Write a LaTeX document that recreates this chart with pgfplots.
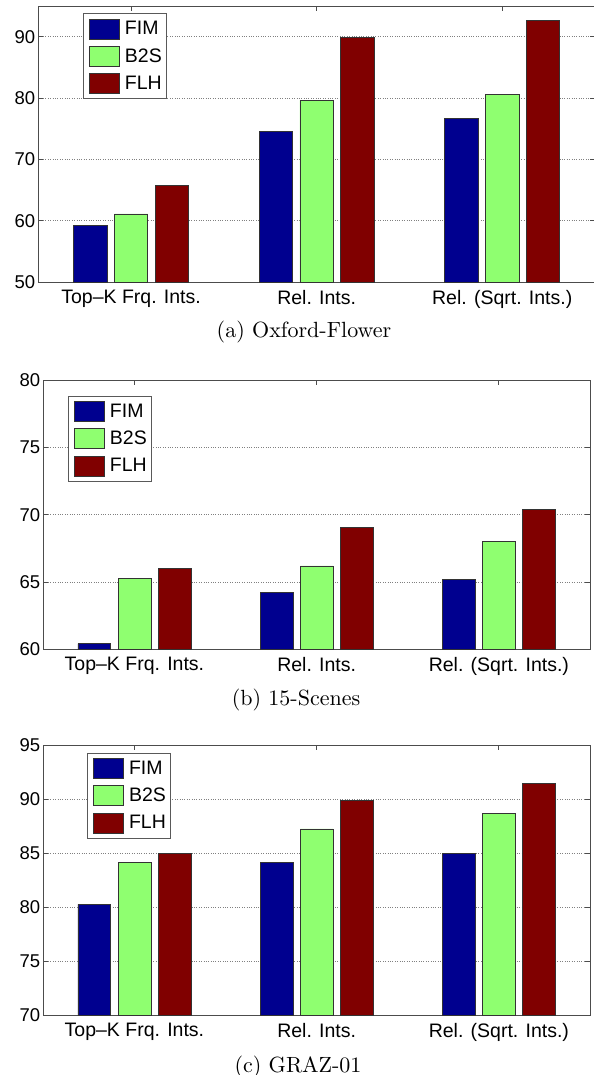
\documentclass[border=0pt]{standalone}
\usepackage{pgfplots}
\pgfplotsset{compat=1.18}
\usepackage{fontspec}
\newfontfamily\arial{Liberation Sans}
\newfontfamily\capfont{lmroman10-regular}[Extension=.otf]
\definecolor{cFIM}{rgb}{0,0,0.5625}
\definecolor{cB2S}{rgb}{0.5625,1,0.4375}
\definecolor{cFLH}{rgb}{0.5,0,0}
\pgfplotsset{
  mybar/.style={
    scale only axis, anchor=north west,
    xmin=0.5, xmax=3.5,
    xtick={1,2,3},
    xticklabels={Top–K Frq. Ints., Rel. Ints., Rel. (Sqrt. Ints.)},
    ymajorgrids,
    grid style={dotted, black!50, line width=0.7bp},
    tick align=inside, major tick length=5bp,
    axis line style={black!70, line width=0.8bp},
    every tick/.style={black!70, line width=0.8bp},
    /pgf/number format/assume math mode=true,
    xticklabel style={font=\arial\fontsize{19.5bp}{22bp}\selectfont, inner sep=0pt, anchor=north, yshift=-8bp},
    yticklabel style={font=\arial\fontsize{18.5bp}{22bp}\selectfont, inner sep=0pt, anchor=east, xshift=-3bp},
    legend cell align=left,
    legend image code/.code={\draw[##1] (0bp,-10bp) rectangle (30bp,10bp);},
    legend style={anchor=north west, draw=black!65, line width=0.8bp, inner sep=5bp,
      row sep=6.7bp, column sep=5.7bp,
      font=\arial\fontsize{19.5bp}{22bp}\selectfont,
      nodes={inner sep=0pt}},
  },
  bFIM/.style={ybar, bar width=0.18, bar shift=0pt, fill=cFIM, draw=black!80, line width=0.6bp},
  bB2S/.style={ybar, bar width=0.18, bar shift=0pt, fill=cB2S, draw=black!80, line width=0.6bp},
  bFLH/.style={ybar, bar width=0.18, bar shift=0pt, fill=cFLH, draw=black!80, line width=0.6bp},
}
\begin{document}
\begin{tikzpicture}
\useasboundingbox (0,0) rectangle (594bp,-1075bp);
% (a) Oxford-Flower
\begin{axis}[mybar, at={(38.3bp,-6bp)}, width=556.7bp, height=276bp,
  ymin=50, ymax=95, ytick={50,60,70,80,90},
  legend style={at={(0.0808,0.9736)}}]
\addplot[bFIM] coordinates {(0.78,59.2) (1.78,74.6) (2.78,76.7)};
\addplot[bB2S] coordinates {(1,61.1) (2,79.6) (3,80.6)};
\addplot[bFLH] coordinates {(1.22,65.7) (2.22,89.9) (3.22,92.6)};
\legend{FIM,B2S,FLH}
\end{axis}
% (b) 15-Scenes
\begin{axis}[mybar, at={(43.3bp,-380bp)}, width=546.7bp, height=269.3bp,
  ymin=60, ymax=80, ytick={60,65,70,75,80},
  legend style={at={(0.0457,0.9417)}}]
\addplot[bFIM] coordinates {(0.78,60.42) (1.78,64.23) (2.78,65.2)};
\addplot[bB2S] coordinates {(1,65.25) (2,66.19) (3,68.04)};
\addplot[bFLH] coordinates {(1.22,66.02) (2.22,69.06) (3.22,70.42)};
\legend{FIM,B2S,FLH}
\end{axis}
% (c) GRAZ-01
\begin{axis}[mybar, at={(43.3bp,-745.3bp)}, width=546.7bp, height=269.7bp,
  ymin=70, ymax=95, ytick={70,75,80,85,90,95},
  legend style={at={(0.0805,0.9729)}}]
\addplot[bFIM] coordinates {(0.78,80.25) (1.78,84.18) (2.78,85.0)};
\addplot[bB2S] coordinates {(1,84.18) (2,87.25) (3,88.7)};
\addplot[bFLH] coordinates {(1.22,85.0) (2.22,89.9) (3.22,91.5)};
\legend{FIM,B2S,FLH}
\end{axis}
\node[anchor=base, font=\capfont\fontsize{22bp}{25bp}\selectfont] at (304bp,-337.3bp) {(a) Oxford-Flower};
\node[anchor=base, font=\capfont\fontsize{22bp}{25bp}\selectfont] at (296bp,-705bp) {(b) 15-Scenes};
\node[anchor=base, font=\capfont\fontsize{22bp}{25bp}\selectfont] at (298bp,-1072bp) {(c) GRAZ-01};
\end{tikzpicture}
\end{document}
